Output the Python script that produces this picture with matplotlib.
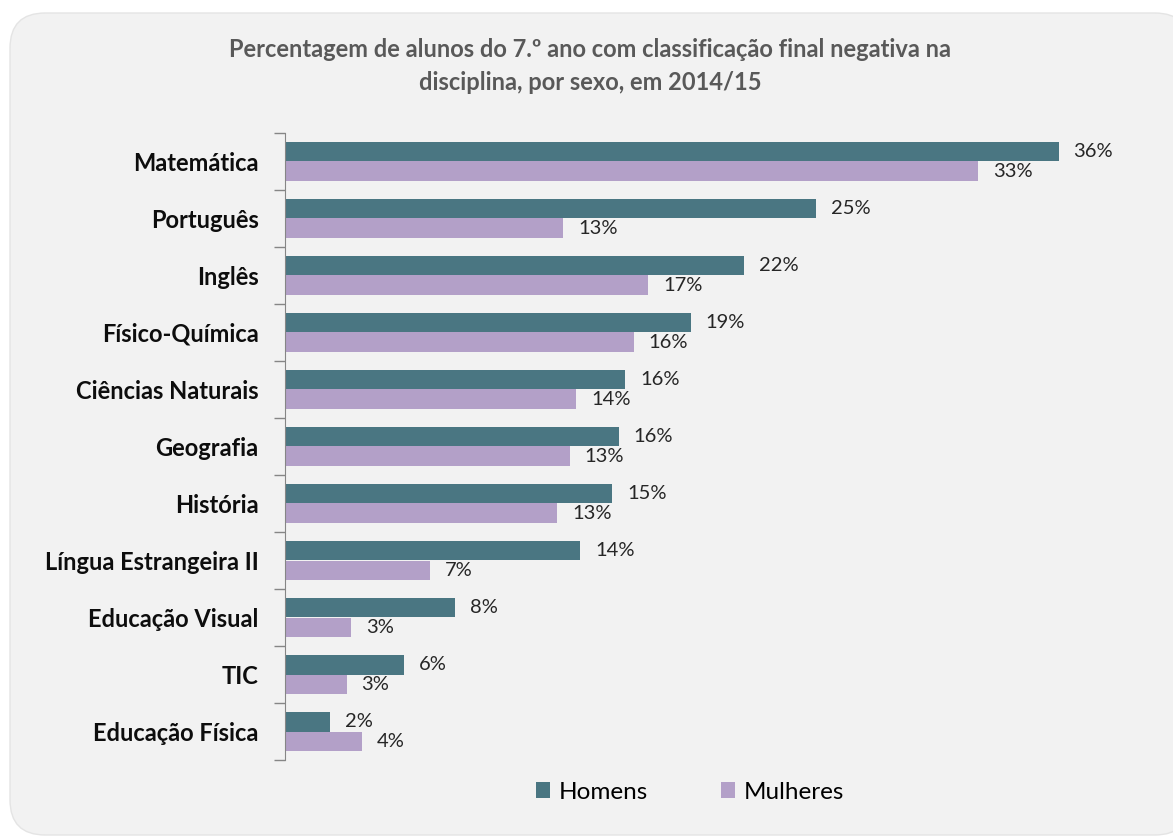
import matplotlib

matplotlib.use("Agg")

import matplotlib.pyplot as plt
import numpy as np
from matplotlib.patches import FancyBboxPatch

# data
categories = [
    "Matemática", "Português", "Inglês", "Físico-Química", "Ciências Naturais",
    "Geografia", "História", "Língua Estrangeira II", "Educação Visual", "TIC",
    "Educação Física",
]
homens = [36.4, 25.0, 21.6, 19.1, 16.0, 15.7, 15.4, 13.9, 8.0, 5.6, 2.1]
mulheres = [32.6, 13.1, 17.1, 16.4, 13.7, 13.4, 12.8, 6.8, 3.1, 2.9, 3.6]
series_names = ["Homens", "Mulheres"]

TITLE = "Percentagem de alunos do 7.º ano com classificação final negativa na\ndisciplina, por sexo, em 2014/15"
C_HOM = "#4a7682"
C_MUL = "#b3a0c8"

plt.rcParams["font.family"] = ["Lato", "DejaVu Sans"]

fig = plt.figure(figsize=(11.73, 8.38), dpi=100)
fig.patch.set_facecolor("white")

panel = FancyBboxPatch(
    (10 / 1173, 3 / 838), 1180 / 1173, 822 / 838,
    boxstyle="round,pad=0,rounding_size=0.03",
    transform=fig.transFigure, facecolor="#f2f2f2", edgecolor="#e4e4e4",
    linewidth=1.0, zorder=-5, mutation_aspect=1173 / 838,
)
fig.patches.append(panel)

ax = fig.add_axes([285 / 1173, 1 - 760 / 838, 850 / 1173, 627 / 838])
ax.set_facecolor("none")
ax.set_zorder(2)

n = len(categories)
y = np.arange(n)
h = 0.335
ax.barh(y - h / 2, homens, height=h, color=C_HOM, label=series_names[0])
ax.barh(y + h / 2, mulheres, height=h, color=C_MUL, label=series_names[1])

for yi, v in zip(y, homens):
    ax.text(v + 0.7, yi - h / 2, f"{v:.0f}%", va="center", ha="left",
            fontsize=14.5, color="#262626")
for yi, v in zip(y, mulheres):
    ax.text(v + 0.7, yi + h / 2, f"{v:.0f}%", va="center", ha="left",
            fontsize=14.5, color="#262626")

ax.set_xlim(0, 40)
ax.set_ylim(n - 0.5, -0.5)
ax.set_xticks([])
ax.set_yticks(y)
ax.set_yticklabels(categories, fontsize=17, fontweight="bold", color="#0d0d0d")
ax.set_yticks(np.arange(n + 1) - 0.5, minor=True)
ax.tick_params(axis="y", which="major", length=0, pad=19)
ax.tick_params(axis="y", which="minor", length=8, color="#868686", width=1)

for s in ("top", "right", "bottom"):
    ax.spines[s].set_visible(False)
ax.spines["left"].set_color("#868686")

fig.text(590 / 1173, 1 - 66 / 838, TITLE, ha="center", va="center",
         fontsize=17, fontweight="bold", color="#595959", linespacing=1.5)

leg = fig.legend(loc="center", bbox_to_anchor=(690 / 1173, 1 - 792 / 838), ncol=2,
                 frameon=False, fontsize=17.5, handlelength=0.6, handleheight=0.6,
                 columnspacing=3.0, handletextpad=0.35)
leg.set_zorder(3)

fig.savefig("out.png", dpi=100, facecolor="white")
